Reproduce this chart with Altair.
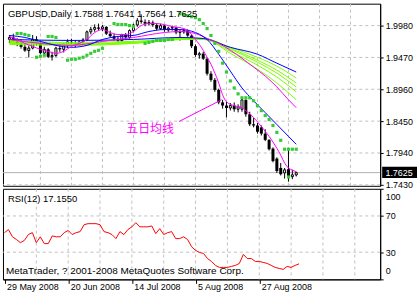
import altair as alt
import pandas as pd

# ---------------- data ----------------
bar_open = [1.9760,1.9790,1.9730,1.9700,1.9640,1.9580,1.9620,1.9760,1.9700,1.9540,
            1.9600,1.9480,1.9500,1.9620,1.9600,1.9660,1.9720,1.9700,1.9670,1.9720,
            1.9750,1.9880,1.9920,1.9950,1.9930,1.9960,1.9850,1.9810,1.9770,1.9740,
            1.9830,1.9790,1.9900,1.9990,2.0060,2.0040,2.0010,2.0030,1.9990,1.9930,
            1.9980,1.9910,1.9940,1.9950,1.9870,1.9880,1.9900,1.9820,1.9650,1.9510,
            1.9530,1.9450,1.9210,1.9110,1.8950,1.8750,1.8700,1.8660,1.8700,1.8640,
            1.8640,1.8790,1.8560,1.8400,1.8380,1.8350,1.8250,1.8150,1.8010,1.7850,
            1.7700,1.7620,1.7680,1.7560,1.7588]
bar_high = [1.9830,1.9850,1.9780,1.9760,1.9700,1.9660,1.9830,1.9810,1.9740,1.9640,
            1.9620,1.9560,1.9640,1.9680,1.9700,1.9760,1.9770,1.9750,1.9740,1.9780,
            1.9900,1.9960,2.0000,2.0012,1.9990,1.9970,1.9900,1.9850,1.9810,1.9850,
            1.9860,1.9920,2.0010,2.0100,2.0160,2.0080,2.0070,2.0060,2.0020,2.0010,
            1.9990,1.9960,1.9980,1.9960,1.9920,1.9930,1.9920,1.9840,1.9680,1.9560,
            1.9560,1.9470,1.9250,1.9140,1.8970,1.8790,1.8760,1.8740,1.8750,1.8720,
            1.8820,1.8800,1.8600,1.8500,1.8420,1.8380,1.8320,1.8160,1.8030,1.7870,
            1.7780,1.7700,1.7985,1.7670,1.7641]
bar_low = [1.9700,1.9720,1.9650,1.9610,1.9560,1.9470,1.9600,1.9660,1.9520,1.9515,
           1.9460,1.9420,1.9480,1.9560,1.9550,1.9620,1.9660,1.9630,1.9650,1.9690,
           1.9730,1.9840,1.9880,1.9900,1.9890,1.9830,1.9790,1.9740,1.9700,1.9720,
           1.9760,1.9770,1.9870,1.9960,2.0010,1.9970,1.9980,1.9960,1.9900,1.9910,
           1.9880,1.9880,1.9900,1.9840,1.9740,1.9850,1.9800,1.9620,1.9480,1.9450,
           1.9430,1.9180,1.9080,1.8920,1.8720,1.8650,1.8510,1.8620,1.8600,1.8590,
           1.8600,1.8520,1.8370,1.8350,1.8250,1.8220,1.8130,1.7980,1.7790,1.7620,
           1.7580,1.7530,1.7480,1.7520,1.7564]
bar_close = [1.9790,1.9730,1.9700,1.9640,1.9580,1.9620,1.9760,1.9700,1.9540,1.9600,
             1.9480,1.9500,1.9620,1.9600,1.9660,1.9720,1.9700,1.9670,1.9720,1.9750,
             1.9880,1.9920,1.9950,1.9930,1.9960,1.9850,1.9810,1.9770,1.9740,1.9830,
             1.9790,1.9900,1.9990,2.0060,2.0040,2.0010,2.0030,1.9990,1.9930,1.9980,
             1.9910,1.9940,1.9950,1.9870,1.9880,1.9900,1.9820,1.9650,1.9510,1.9530,
             1.9450,1.9210,1.9110,1.8950,1.8750,1.8700,1.8660,1.8700,1.8640,1.8680,
             1.8790,1.8560,1.8400,1.8380,1.8280,1.8250,1.8150,1.8000,1.7810,1.7650,
             1.7600,1.7670,1.7560,1.7590,1.7625]

rsi12 = [51.6,55.0,47.0,44.0,40.5,43.0,49.5,51.6,40.5,47.0,
         39.5,39.5,48.0,47.0,47.0,51.6,54.0,49.5,51.6,52.7,
         60.4,61.5,61.5,61.5,60.4,52.7,51.6,49.5,45.0,52.7,
         49.5,55.0,58.0,62.6,58.0,58.0,58.0,59.0,50.5,56.0,
         49.5,51.6,52.7,45.0,45.0,47.0,44.0,36.0,32.0,29.7,
         28.6,23.0,19.8,15.4,13.2,13.2,13.2,14.3,15.4,17.6,
         27.5,23.0,23.0,19.8,19.8,18.7,17.6,15.4,13.2,12.1,
         11.0,14.3,13.2,15.4,17.155]

ma5_idx = [0,2,4,6,8,10,12,14,16,18,20,22,24,26,28,30,32,34,36,38,40,42,44,46,47,48,49,50,
           51,52,53,54,55,56,58,60,61,63,65,67,69,70,71,72,73,74]
ma5_val = [1.9806,1.9758,1.9695,1.9647,1.9600,1.9568,1.9536,1.9568,1.9647,1.9695,1.9758,
           1.9869,1.9917,1.9869,1.9837,1.9837,1.9885,1.9980,2.0012,2.0012,1.9996,1.9964,
           1.9948,1.9901,1.9837,1.9758,1.9679,1.9584,1.9473,1.9362,1.9220,1.9061,1.8871,
           1.8760,1.8697,1.8665,1.8618,1.8507,1.8364,1.8206,1.8016,1.7905,1.7778,1.7699,
           1.7667,1.7636]

blue_fast_idx = [0,4,8,12,16,20,24,28,32,36,40,44,48,50,51,54,57,60,63,66,69,72,74]
blue_fast_val = [1.9822,1.9790,1.9727,1.9663,1.9632,1.9663,1.9758,1.9806,1.9822,1.9885,
                 1.9917,1.9917,1.9869,1.9806,1.9758,1.9521,1.9251,1.8982,1.8776,1.8586,
                 1.8396,1.8206,1.8079]

mag_slow_idx = [0,8,16,24,32,40,44,48,51,54,57,60,63,66,69,72,74]
mag_slow_val = [1.9758,1.9695,1.9663,1.9727,1.9790,1.9869,1.9885,1.9853,1.9774,1.9695,
                1.9584,1.9457,1.9315,1.9172,1.8998,1.8792,1.8665]

slow_idx = [0,16,32,44,50,57,64,69,74]
blue_slow_val = [1.9758,1.9742,1.9758,1.9790,1.9774,1.9632,1.9521,1.9378,1.9236]
green1_val = [1.9742,1.9711,1.9727,1.9774,1.9774,1.9632,1.9473,1.9331,1.9140]
green2_val = [1.9727,1.9695,1.9711,1.9758,1.9774,1.9616,1.9426,1.9267,1.9061]
green3_val = [1.9711,1.9679,1.9711,1.9758,1.9758,1.9600,1.9394,1.9220,1.8998]
green4_val = [1.9695,1.9679,1.9695,1.9758,1.9758,1.9568,1.9346,1.9156,1.8919]
green5_val = [1.9679,1.9663,1.9695,1.9774,1.9774,1.9536,1.9283,1.9061,1.8792]

sar_idx = [2,3,4,5, 7,8,9, 10,11,12,
           15,16,17,18,19,20,21,22,23,24,
           27,28,29,30,31,32,
           35,36,37,38,39,40,41,42,
           44,45,46,47,48,49,50,51,52,53,54,55,56,57,58,59,60,61,62,63,64,65,66,67,68,69,
           70,71,72,73,74, 72]
sar_val = [1.9853,1.9853,1.9837,1.9822, 1.9473,1.9489,1.9505, 1.9806,1.9806,1.9790,
           1.9426,1.9441,1.9441,1.9457,1.9473,1.9505,1.9536,1.9568,1.9584,1.9616,
           2.0012,1.9996,1.9996,1.9996,1.9980,1.9964,
           1.9695,1.9711,1.9727,1.9742,1.9742,1.9742,1.9758,1.9758,
           2.0170,2.0154,2.0138,2.0123,2.0107,2.0075,2.0012,1.9932,1.9822,1.9695,1.9568,
           1.9378,1.9236,1.9093,1.8982,1.8887,1.8824,1.8824,1.8824,1.8776,1.8697,1.8618,
           1.8539,1.8475,1.8380,1.8269,1.8143,1.8000,1.8000,1.8000,1.8000, 1.7556]

date_ticks = [0, 16, 32, 48, 64]
date_labels = ["29 May 2008", "20 Jun 2008", "14 Jul 2008", "5 Aug 2008", "27 Aug 2008"]
price_ticks = [1.9980, 1.9470, 1.8960, 1.8450, 1.7940, 1.7430]
rsi_ticks = [100, 70, 30, 0]
rsi_levels = [70, 30]
grid_bars = [8, 16, 24, 32, 40, 48, 56, 64, 72, 80, 88]

note_idx = [43.75, 54.75]
note_val = [1.8444, 1.8792]
note_text = "五日均线"
title_text = "GBPUSD,Daily  1.7588 1.7641 1.7564 1.7625"
rsi_text = "RSI(12) 17.1550"
copy_text = "MetaTrader, ? 2001-2008 MetaQuotes Software Corp."

# ---------------- layout ----------------
W = 379
H_MAIN = 183
H_RSI = 91
P_LO, P_HI = 1.7414, 2.0331
px_price = (P_HI - P_LO) / H_MAIN
FONT = "Liberation Sans"
GRID = "#c0c0c0"

xs = alt.Scale(domain=[-0.375, 94.375], nice=False, zero=False)
ys = alt.Scale(domain=[P_LO, P_HI], nice=False, zero=False)
rs = alt.Scale(domain=[0, 100], nice=False, zero=False)

yaxis = alt.Axis(orient="right", values=price_ticks, format=".4f", grid=False,
                 title=None, tickSize=3, tickColor="black", domainColor="black",
                 labelFont=FONT, labelFontSize=9, labelColor="black", labelPadding=2)
raxis = alt.Axis(orient="right", values=rsi_ticks, format="d", grid=False, title=None,
                 tickSize=3, tickColor="black", domainColor="black", labelFlush=True,
                 labelFlushOffset=-4,
                 labelFont=FONT, labelFontSize=9, labelColor="black", labelPadding=2)

expr = "''"
for t, lab in reversed(list(zip(date_ticks, date_labels))):
    expr = f"datum.value == {t} ? '{lab}' : ({expr})"
xaxis = alt.Axis(values=date_ticks, labelExpr=expr, grid=False, title=None, tickSize=4,
                 tickColor="black", domainColor="black", labelAlign="left", labelOffset=2,
                 labelBaseline="middle", labelPadding=3,
                 labelFont=FONT, labelFontSize=9, labelColor="black")

bars = pd.DataFrame({"i": list(range(len(bar_open))), "o": bar_open, "h": bar_high,
                     "l": bar_low, "c": bar_close})
bars["bull"] = bars["c"] > bars["o"]
bull = bars[bars["bull"]]
bear = bars[~bars["bull"]]

X = lambda f: alt.X(f, scale=xs, axis=None)
Y = lambda f: alt.Y(f, scale=ys, axis=yaxis)

vgrid = pd.DataFrame({"g": grid_bars})
hgrid = pd.DataFrame({"p": price_ticks})

layers = []
layers.append(alt.Chart(vgrid).mark_rule(color=GRID, strokeDash=[3, 3], strokeWidth=1)
              .encode(x=X("g:Q")))
layers.append(alt.Chart(hgrid).mark_rule(color=GRID, strokeDash=[3, 3], strokeWidth=1)
              .encode(y=Y("p:Q")))
last = pd.DataFrame({"p": [bar_close[-1]], "top": [bar_close[-1] + 6 * px_price],
                     "bot": [bar_close[-1] - 5.5 * px_price], "t": ["%.4f" % bar_close[-1]]})
layers.append(alt.Chart(last).mark_rule(color="#b0b0b0", strokeWidth=1).encode(y=Y("p:Q")))

# candles
layers.append(alt.Chart(bars).mark_rule(color="black", strokeWidth=1)
              .encode(x=X("i:Q"), y=Y("l:Q"), y2="h:Q"))
layers.append(alt.Chart(bear).mark_bar(size=3, color="black")
              .encode(x=X("i:Q"), y=Y("o:Q"), y2="c:Q"))
layers.append(alt.Chart(bull).mark_bar(size=2, fill="white", stroke="black", strokeWidth=1)
              .encode(x=X("i:Q"), y=Y("o:Q"), y2="c:Q"))

# moving averages
def ma_layer(idx, vals, color):
    df = pd.DataFrame({"i": idx, "v": vals})
    return (alt.Chart(df).mark_line(color=color, strokeWidth=1, interpolate="monotone")
            .encode(x=X("i:Q"), y=Y("v:Q")))

for gv in [green5_val, green4_val, green3_val, green2_val, green1_val]:
    layers.append(ma_layer(slow_idx, gv, "#7cfc00"))
layers.append(ma_layer(slow_idx, blue_slow_val, "#0000ff"))
layers.append(ma_layer(mag_slow_idx, mag_slow_val, "#ff00ff"))
layers.append(ma_layer(blue_fast_idx, blue_fast_val, "#0000ff"))
layers.append(ma_layer(ma5_idx, ma5_val, "#ff00ff"))

# parabolic SAR
sar = pd.DataFrame({"i": sar_idx, "v": sar_val})
layers.append(alt.Chart(sar).mark_square(size=10, color="#32cd32", opacity=1)
              .encode(x=X("i:Q"), y=Y("v:Q")))

# annotation
note = pd.DataFrame({"i": note_idx, "v": note_val})
layers.append(alt.Chart(note).mark_line(color="#ff00ff", strokeWidth=1)
              .encode(x=X("i:Q"), y=Y("v:Q")))
note_t = pd.DataFrame({"i": [36.3], "v": [1.8330], "t": [note_text]})
layers.append(alt.Chart(note_t).mark_text(font="Noto Sans CJK SC", fontSize=12, color="#ff00ff")
              .encode(x=X("i:Q"), y=Y("v:Q"), text="t:N"))

# texts and current price box
layers.append(alt.Chart(pd.DataFrame({"t": [title_text]}))
              .mark_text(align="left", baseline="middle", font=FONT, fontSize=9.5, color="black")
              .encode(x=alt.value(5), y=alt.value(10), text="t:N"))
layers.append(alt.Chart(last).mark_rect(color="black")
              .encode(x=alt.value(381), x2=alt.value(416), y=Y("top:Q"), y2="bot:Q"))
layers.append(alt.Chart(last).mark_text(color="white", font=FONT, fontSize=9, align="center",
                                        baseline="middle")
              .encode(x=alt.value(398), y=Y("p:Q"), text="t:N"))

main = alt.layer(*layers).properties(width=W, height=H_MAIN)

# RSI panel
XR = lambda f: alt.X(f, scale=xs, axis=xaxis)
YR = lambda f: alt.Y(f, scale=rs, axis=raxis)
rdf = pd.DataFrame({"i": list(range(len(rsi12))), "r": rsi12})
rl = []
rl.append(alt.Chart(vgrid).mark_rule(color=GRID, strokeDash=[3, 3]).encode(x=XR("g:Q")))
rl.append(alt.Chart(pd.DataFrame({"r": rsi_levels})).mark_rule(color=GRID, strokeDash=[3, 3])
          .encode(y=YR("r:Q")))
rl.append(alt.Chart(rdf).mark_line(color="#ff0000", strokeWidth=1).encode(x=XR("i:Q"), y=YR("r:Q")))
rl.append(alt.Chart(pd.DataFrame({"t": [rsi_text]}))
          .mark_text(align="left", baseline="middle", font=FONT, fontSize=9.5, color="black")
          .encode(x=alt.value(5), y=alt.value(10), text="t:N"))
rl.append(alt.Chart(pd.DataFrame({"t": [copy_text]}))
          .mark_text(align="left", baseline="middle", font=FONT, fontSize=10, color="black")
          .encode(x=alt.value(3), y=alt.value(83), text="t:N"))
rsi_chart = alt.layer(*rl).properties(width=W, height=H_RSI)

chart = (alt.vconcat(main, rsi_chart, spacing=3, bounds="flush")
         .properties(padding={"left": 2, "top": 2, "right": 0, "bottom": 0}, background="white")
         .configure_view(stroke="black", strokeWidth=1)
         .configure_axis(labelFont=FONT))

chart.save("out.html", embed_options={"renderer": "svg", "actions": False})
